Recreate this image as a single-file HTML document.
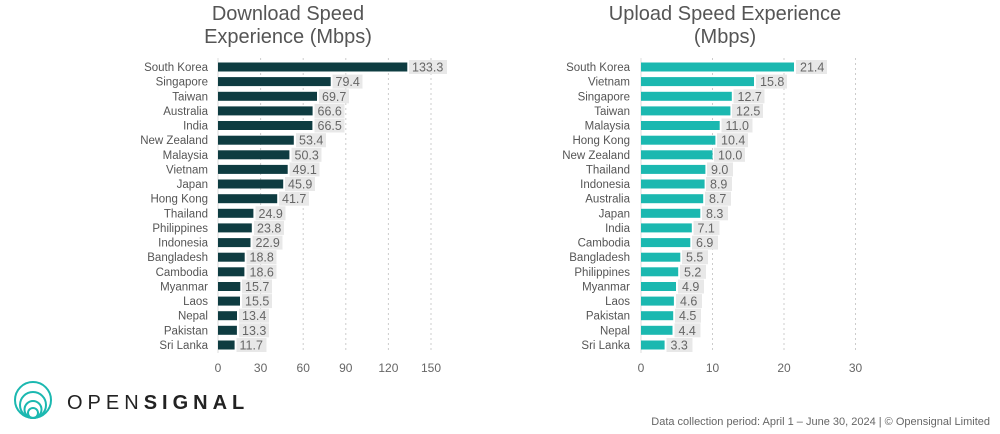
<!DOCTYPE html>
<html><head><meta charset="utf-8"><style>
body{margin:0;background:#fff;}
svg{display:block;font-family:"Liberation Sans",sans-serif;}
.l{font-size:11.5px;fill:#555;text-anchor:end}
.v{font-size:12.5px;fill:#666}
.t{font-size:12px;fill:#666;text-anchor:middle}
.h{font-size:20px;fill:#555;text-anchor:middle}
.b{fill:#e8e8e8}
.d{fill:#0e3c41}
.u{fill:#1bb8b0}
.g{stroke:#ccc;stroke-dasharray:2 3;stroke-width:1}
</style></head><body>
<svg width="1000" height="434" viewBox="0 0 1000 434">
<text class="h" x="288" y="20">Download Speed</text>
<text class="h" x="288" y="43">Experience (Mbps)</text>
<text class="h" x="725" y="20">Upload Speed Experience</text>
<text class="h" x="725" y="43">(Mbps)</text>
<!-- download grid -->
<line class="g" x1="260.6" y1="58" x2="260.6" y2="353"/>
<line class="g" x1="303.2" y1="58" x2="303.2" y2="353"/>
<line class="g" x1="345.8" y1="58" x2="345.8" y2="353"/>
<line class="g" x1="388.4" y1="58" x2="388.4" y2="353"/>
<line class="g" x1="431" y1="58" x2="431" y2="353"/>
<line x1="218" y1="58" x2="218" y2="353" stroke="#ddd"/>
<g class="t"><text x="218" y="372">0</text><text x="260.6" y="372">30</text><text x="303.2" y="372">60</text><text x="345.8" y="372">90</text><text x="388.4" y="372">120</text><text x="431" y="372">150</text></g>
<!-- upload grid -->
<line class="g" x1="712.5" y1="58" x2="712.5" y2="353"/>
<line class="g" x1="784" y1="58" x2="784" y2="353"/>
<line class="g" x1="855.5" y1="58" x2="855.5" y2="353"/>
<line x1="641" y1="58" x2="641" y2="353" stroke="#ddd"/>
<g class="t"><text x="641" y="372">0</text><text x="712.5" y="372">10</text><text x="784" y="372">20</text><text x="855.5" y="372">30</text></g>

<g transform="translate(0,67)"><text class="l" x="208" y="4">South Korea</text><rect class="d" x="218" y="-4.5" width="189.3" height="9"/><rect class="b" x="409" y="-7" width="38" height="14"/><text class="v" x="412" y="4.5">133.3</text></g>
<g transform="translate(0,81.6)"><text class="l" x="208" y="4">Singapore</text><rect class="d" x="218" y="-4.5" width="112.7" height="9"/><rect class="b" x="332.5" y="-7" width="30" height="14"/><text class="v" x="335.5" y="4.5">79.4</text></g>
<g transform="translate(0,96.3)"><text class="l" x="208" y="4">Taiwan</text><rect class="d" x="218" y="-4.5" width="99" height="9"/><rect class="b" x="319" y="-7" width="30" height="14"/><text class="v" x="322" y="4.5">69.7</text></g>
<g transform="translate(0,110.9)"><text class="l" x="208" y="4">Australia</text><rect class="d" x="218" y="-4.5" width="94.6" height="9"/><rect class="b" x="314.5" y="-7" width="30" height="14"/><text class="v" x="317.5" y="4.5">66.6</text></g>
<g transform="translate(0,125.5)"><text class="l" x="208" y="4">India</text><rect class="d" x="218" y="-4.5" width="94.4" height="9"/><rect class="b" x="314.5" y="-7" width="30" height="14"/><text class="v" x="317.5" y="4.5">66.5</text></g>
<g transform="translate(0,140.2)"><text class="l" x="208" y="4">New Zealand</text><rect class="d" x="218" y="-4.5" width="75.8" height="9"/><rect class="b" x="296" y="-7" width="30" height="14"/><text class="v" x="299" y="4.5">53.4</text></g>
<g transform="translate(0,154.8)"><text class="l" x="208" y="4">Malaysia</text><rect class="d" x="218" y="-4.5" width="71.4" height="9"/><rect class="b" x="291.5" y="-7" width="30" height="14"/><text class="v" x="294.5" y="4.5">50.3</text></g>
<g transform="translate(0,169.4)"><text class="l" x="208" y="4">Vietnam</text><rect class="d" x="218" y="-4.5" width="69.7" height="9"/><rect class="b" x="289.5" y="-7" width="30" height="14"/><text class="v" x="292.5" y="4.5">49.1</text></g>
<g transform="translate(0,184)"><text class="l" x="208" y="4">Japan</text><rect class="d" x="218" y="-4.5" width="65.2" height="9"/><rect class="b" x="285" y="-7" width="30" height="14"/><text class="v" x="288" y="4.5">45.9</text></g>
<g transform="translate(0,198.7)"><text class="l" x="208" y="4">Hong Kong</text><rect class="d" x="218" y="-4.5" width="59.2" height="9"/><rect class="b" x="279" y="-7" width="30" height="14"/><text class="v" x="282" y="4.5">41.7</text></g>
<g transform="translate(0,213.3)"><text class="l" x="208" y="4">Thailand</text><rect class="d" x="218" y="-4.5" width="35.4" height="9"/><rect class="b" x="255.5" y="-7" width="30" height="14"/><text class="v" x="258.5" y="4.5">24.9</text></g>
<g transform="translate(0,227.9)"><text class="l" x="208" y="4">Philippines</text><rect class="d" x="218" y="-4.5" width="33.8" height="9"/><rect class="b" x="254" y="-7" width="30" height="14"/><text class="v" x="257" y="4.5">23.8</text></g>
<g transform="translate(0,242.6)"><text class="l" x="208" y="4">Indonesia</text><rect class="d" x="218" y="-4.5" width="32.5" height="9"/><rect class="b" x="252.5" y="-7" width="30" height="14"/><text class="v" x="255.5" y="4.5">22.9</text></g>
<g transform="translate(0,257.2)"><text class="l" x="208" y="4">Bangladesh</text><rect class="d" x="218" y="-4.5" width="26.7" height="9"/><rect class="b" x="246.5" y="-7" width="30" height="14"/><text class="v" x="249.5" y="4.5">18.8</text></g>
<g transform="translate(0,271.8)"><text class="l" x="208" y="4">Cambodia</text><rect class="d" x="218" y="-4.5" width="26.4" height="9"/><rect class="b" x="246.5" y="-7" width="30" height="14"/><text class="v" x="249.5" y="4.5">18.6</text></g>
<g transform="translate(0,286.5)"><text class="l" x="208" y="4">Myanmar</text><rect class="d" x="218" y="-4.5" width="22.3" height="9"/><rect class="b" x="242" y="-7" width="30" height="14"/><text class="v" x="245" y="4.5">15.7</text></g>
<g transform="translate(0,301.1)"><text class="l" x="208" y="4">Laos</text><rect class="d" x="218" y="-4.5" width="22" height="9"/><rect class="b" x="242" y="-7" width="30" height="14"/><text class="v" x="245" y="4.5">15.5</text></g>
<g transform="translate(0,315.7)"><text class="l" x="208" y="4">Nepal</text><rect class="d" x="218" y="-4.5" width="19" height="9"/><rect class="b" x="239" y="-7" width="30" height="14"/><text class="v" x="242" y="4.5">13.4</text></g>
<g transform="translate(0,330.3)"><text class="l" x="208" y="4">Pakistan</text><rect class="d" x="218" y="-4.5" width="18.9" height="9"/><rect class="b" x="239" y="-7" width="30" height="14"/><text class="v" x="242" y="4.5">13.3</text></g>
<g transform="translate(0,345)"><text class="l" x="208" y="4">Sri Lanka</text><rect class="d" x="218" y="-4.5" width="16.6" height="9"/><rect class="b" x="236.5" y="-7" width="30" height="14"/><text class="v" x="239.5" y="4.5">11.7</text></g>

<g transform="translate(0,67)"><text class="l" x="630" y="4">South Korea</text><rect class="u" x="641" y="-4.5" width="153" height="9"/><rect class="b" x="796" y="-7" width="31" height="14"/><text class="v" x="800" y="4.5">21.4</text></g>
<g transform="translate(0,81.6)"><text class="l" x="630" y="4">Vietnam</text><rect class="u" x="641" y="-4.5" width="113" height="9"/><rect class="b" x="756" y="-7" width="31" height="14"/><text class="v" x="760" y="4.5">15.8</text></g>
<g transform="translate(0,96.3)"><text class="l" x="630" y="4">Singapore</text><rect class="u" x="641" y="-4.5" width="90.8" height="9"/><rect class="b" x="733.5" y="-7" width="31" height="14"/><text class="v" x="737.5" y="4.5">12.7</text></g>
<g transform="translate(0,110.9)"><text class="l" x="630" y="4">Taiwan</text><rect class="u" x="641" y="-4.5" width="89.4" height="9"/><rect class="b" x="732" y="-7" width="31" height="14"/><text class="v" x="736" y="4.5">12.5</text></g>
<g transform="translate(0,125.5)"><text class="l" x="630" y="4">Malaysia</text><rect class="u" x="641" y="-4.5" width="78.7" height="9"/><rect class="b" x="721.5" y="-7" width="31" height="14"/><text class="v" x="725.5" y="4.5">11.0</text></g>
<g transform="translate(0,140.2)"><text class="l" x="630" y="4">Hong Kong</text><rect class="u" x="641" y="-4.5" width="74.4" height="9"/><rect class="b" x="717" y="-7" width="31" height="14"/><text class="v" x="721" y="4.5">10.4</text></g>
<g transform="translate(0,154.8)"><text class="l" x="630" y="4">New Zealand</text><rect class="u" x="641" y="-4.5" width="71.5" height="9"/><rect class="b" x="714" y="-7" width="31" height="14"/><text class="v" x="718" y="4.5">10.0</text></g>
<g transform="translate(0,169.4)"><text class="l" x="630" y="4">Thailand</text><rect class="u" x="641" y="-4.5" width="64.4" height="9"/><rect class="b" x="707" y="-7" width="26" height="14"/><text class="v" x="711" y="4.5">9.0</text></g>
<g transform="translate(0,184)"><text class="l" x="630" y="4">Indonesia</text><rect class="u" x="641" y="-4.5" width="63.6" height="9"/><rect class="b" x="706" y="-7" width="26" height="14"/><text class="v" x="710" y="4.5">8.9</text></g>
<g transform="translate(0,198.7)"><text class="l" x="630" y="4">Australia</text><rect class="u" x="641" y="-4.5" width="62.2" height="9"/><rect class="b" x="705" y="-7" width="26" height="14"/><text class="v" x="709" y="4.5">8.7</text></g>
<g transform="translate(0,213.3)"><text class="l" x="630" y="4">Japan</text><rect class="u" x="641" y="-4.5" width="59.3" height="9"/><rect class="b" x="702" y="-7" width="26" height="14"/><text class="v" x="706" y="4.5">8.3</text></g>
<g transform="translate(0,227.9)"><text class="l" x="630" y="4">India</text><rect class="u" x="641" y="-4.5" width="50.8" height="9"/><rect class="b" x="693.5" y="-7" width="26" height="14"/><text class="v" x="697.5" y="4.5">7.1</text></g>
<g transform="translate(0,242.6)"><text class="l" x="630" y="4">Cambodia</text><rect class="u" x="641" y="-4.5" width="49.3" height="9"/><rect class="b" x="692" y="-7" width="26" height="14"/><text class="v" x="696" y="4.5">6.9</text></g>
<g transform="translate(0,257.2)"><text class="l" x="630" y="4">Bangladesh</text><rect class="u" x="641" y="-4.5" width="39.3" height="9"/><rect class="b" x="682" y="-7" width="26" height="14"/><text class="v" x="686" y="4.5">5.5</text></g>
<g transform="translate(0,271.8)"><text class="l" x="630" y="4">Philippines</text><rect class="u" x="641" y="-4.5" width="37.2" height="9"/><rect class="b" x="680" y="-7" width="26" height="14"/><text class="v" x="684" y="4.5">5.2</text></g>
<g transform="translate(0,286.5)"><text class="l" x="630" y="4">Myanmar</text><rect class="u" x="641" y="-4.5" width="35" height="9"/><rect class="b" x="678" y="-7" width="26" height="14"/><text class="v" x="682" y="4.5">4.9</text></g>
<g transform="translate(0,301.1)"><text class="l" x="630" y="4">Laos</text><rect class="u" x="641" y="-4.5" width="32.9" height="9"/><rect class="b" x="676" y="-7" width="26" height="14"/><text class="v" x="680" y="4.5">4.6</text></g>
<g transform="translate(0,315.7)"><text class="l" x="630" y="4">Pakistan</text><rect class="u" x="641" y="-4.5" width="32.2" height="9"/><rect class="b" x="675" y="-7" width="26" height="14"/><text class="v" x="679" y="4.5">4.5</text></g>
<g transform="translate(0,330.3)"><text class="l" x="630" y="4">Nepal</text><rect class="u" x="641" y="-4.5" width="31.5" height="9"/><rect class="b" x="674.5" y="-7" width="26" height="14"/><text class="v" x="678.5" y="4.5">4.4</text></g>
<g transform="translate(0,345)"><text class="l" x="630" y="4">Sri Lanka</text><rect class="u" x="641" y="-4.5" width="23.6" height="9"/><rect class="b" x="666.5" y="-7" width="26" height="14"/><text class="v" x="670.5" y="4.5">3.3</text></g>

<!-- logo -->
<g fill="none" stroke="#1bb8b0" stroke-width="2">
<circle cx="33" cy="400" r="18"/>
<circle cx="33" cy="405" r="13"/>
<circle cx="33" cy="409.5" r="8.5"/>
<circle cx="33" cy="413" r="5"/>
</g>
<text x="67" y="409" style="font-size:20px;letter-spacing:5px;fill:#222">OPEN<tspan font-weight="bold">SIGNAL</tspan></text>
<text x="990" y="425" style="font-size:11px;fill:#666;text-anchor:end">Data collection period: April 1 – June 30, 2024 | © Opensignal Limited</text>
</svg>
</body></html>
